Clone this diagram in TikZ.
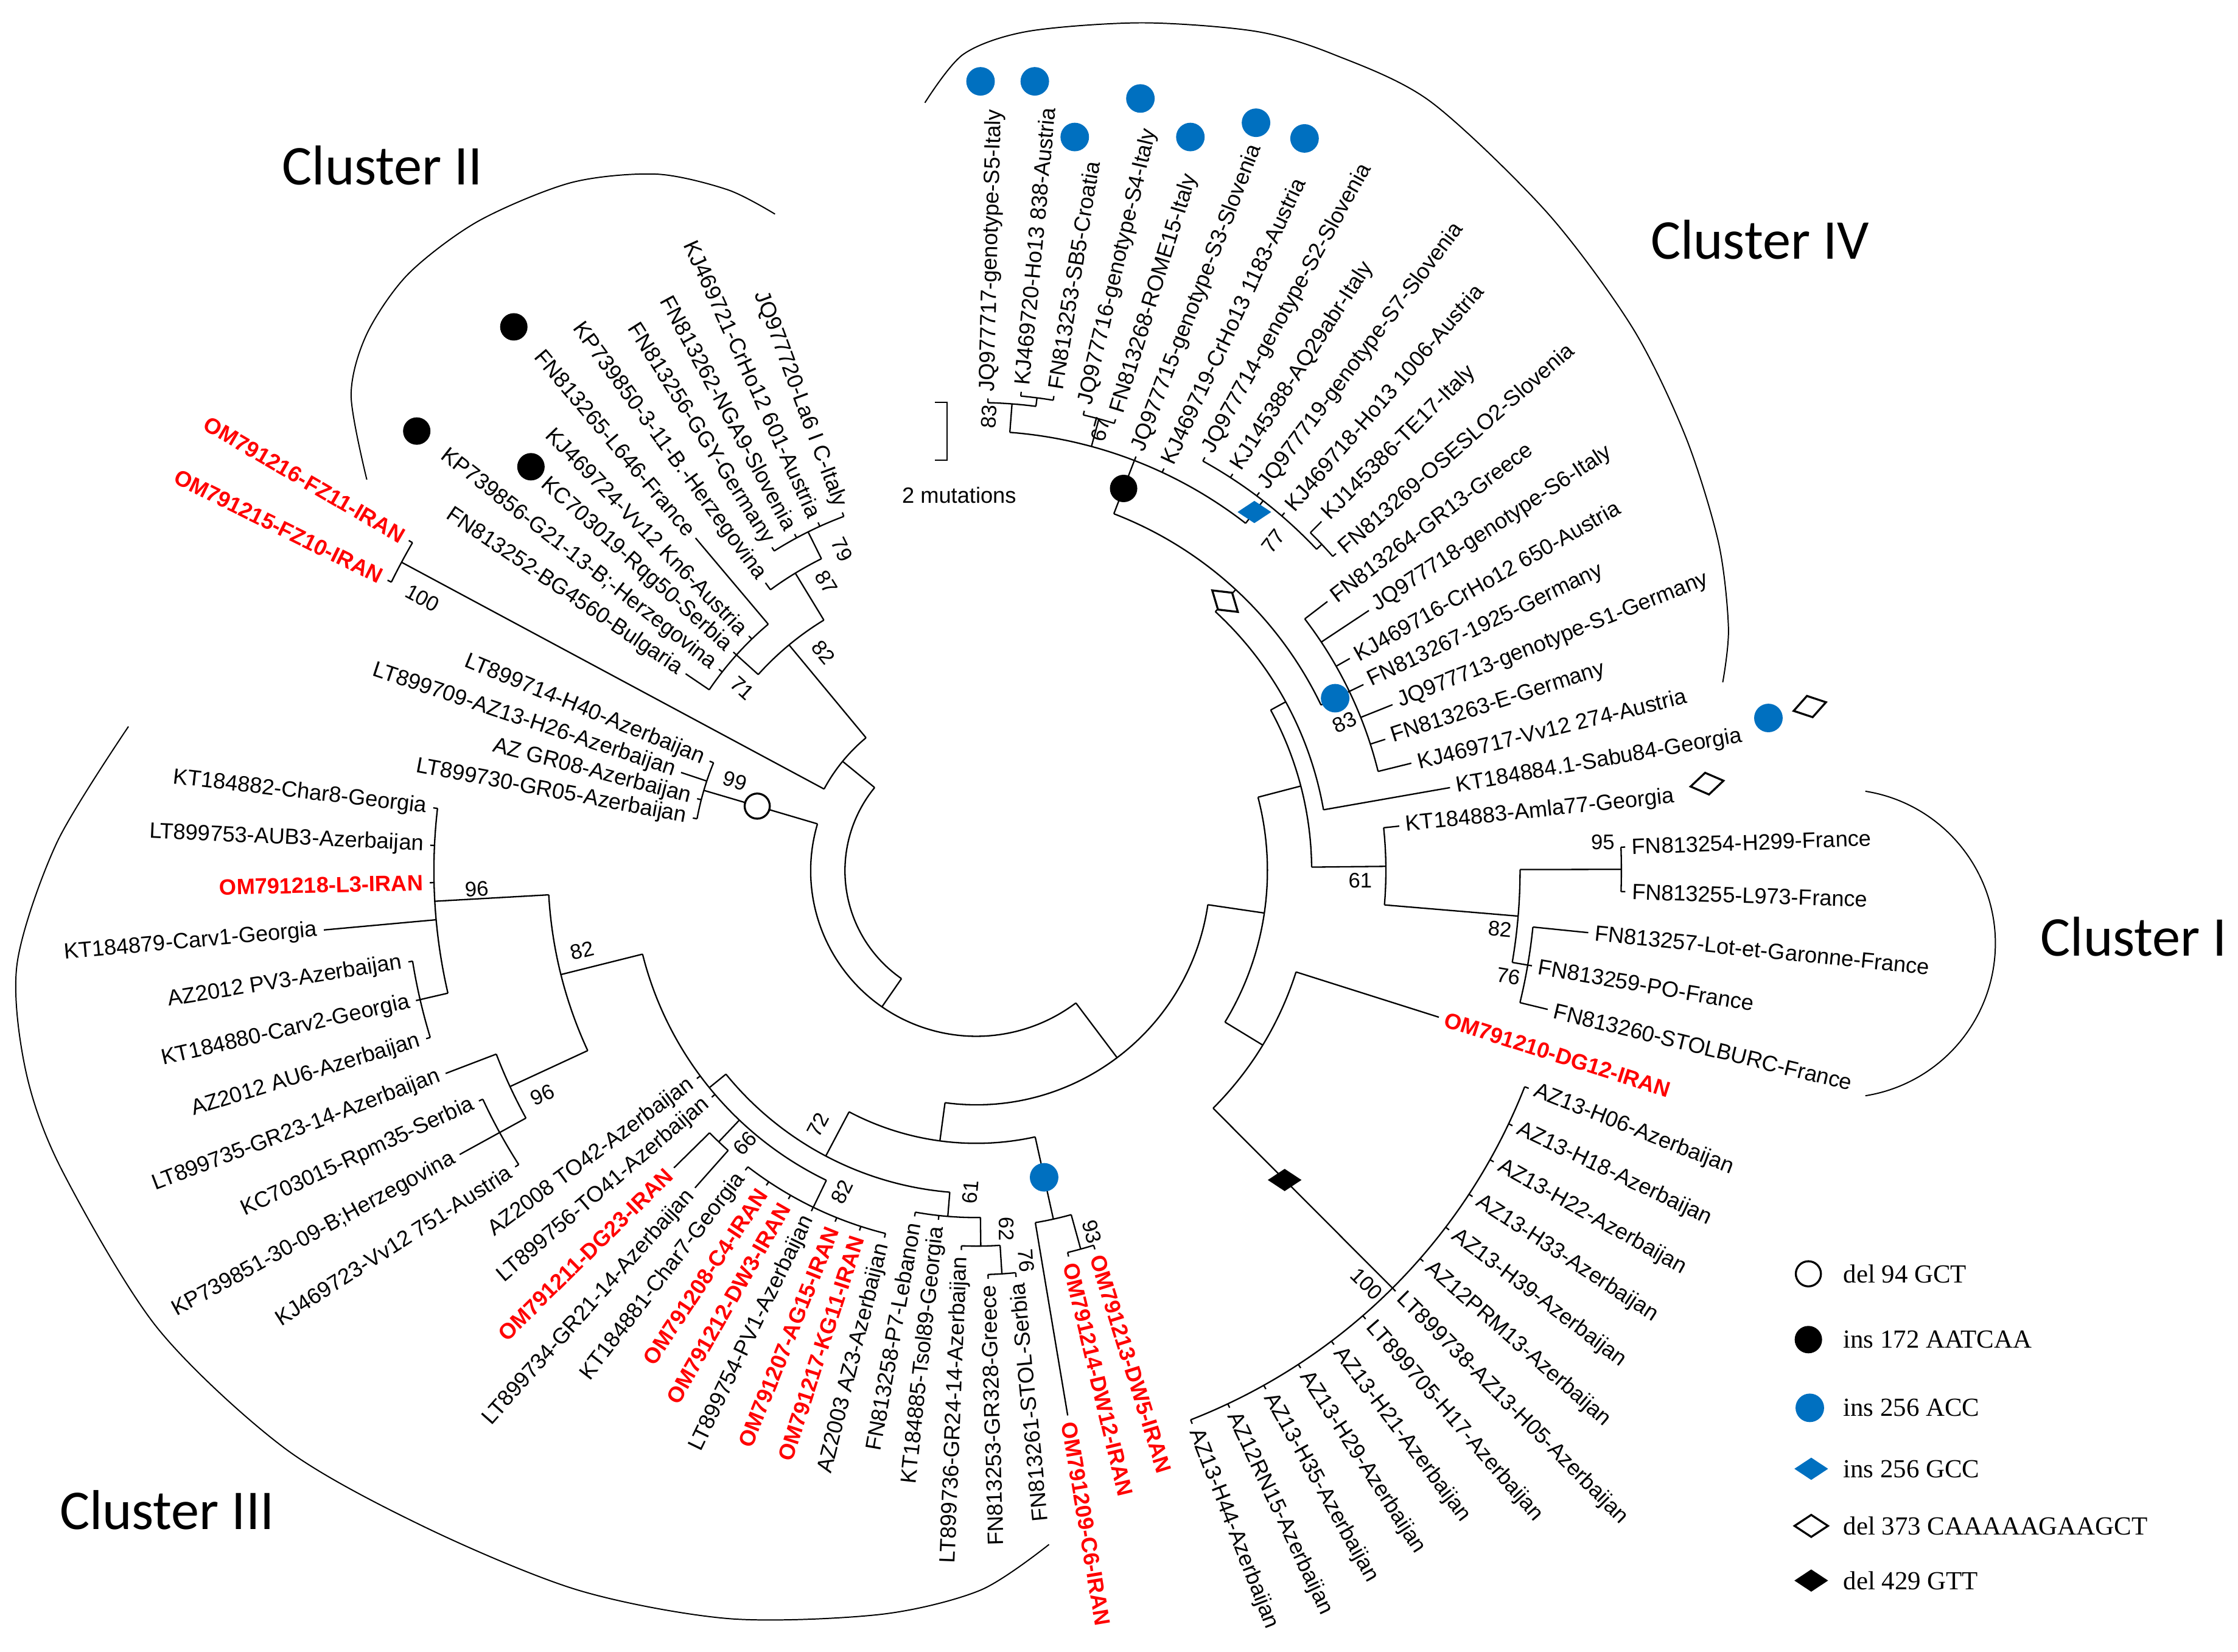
\documentclass[tikz,border=0pt]{standalone}
\usepackage{fontspec}
\setmainfont{Liberation Sans}
\newfontfamily\clusterfont{Carlito}
\newfontfamily\legendfont{Liberation Serif}
\usepackage{tikz}
\usetikzlibrary{shapes.geometric}
\definecolor{insblue}{RGB}{0,112,192}

\begin{document}
\begin{tikzpicture}[x=0.25mm,y=0.25mm,line width=0.7pt]
\tikzstyle{taxl}=[anchor=east,inner sep=3pt,font=\fontsize{11}{13}\selectfont]
\tikzstyle{taxr}=[anchor=west,inner sep=3pt,font=\fontsize{11}{13}\selectfont]
\tikzstyle{iran}=[text=red,font=\fontsize{11}{13}\selectfont\bfseries]
\tikzstyle{boot}=[inner sep=0pt,font=\fontsize{10.5}{12}\selectfont]
\tikzstyle{cluster}=[font=\clusterfont\fontsize{28}{32}\selectfont]
\tikzstyle{legend}=[anchor=west,inner sep=0pt,font=\legendfont\fontsize{13}{15}\selectfont]
\tikzstyle{opendot}=[circle,draw,fill=white,line width=1pt,minimum size=4.4mm,inner sep=0pt]
\tikzstyle{blackdot}=[circle,fill=black,minimum size=4.8mm,inner sep=0pt]
\tikzstyle{bluedot}=[circle,fill=insblue,minimum size=5mm,inner sep=0pt]
\tikzstyle{bluediam}=[diamond,fill=insblue,minimum width=6mm,minimum height=4mm,inner sep=0pt]
\tikzstyle{opendiam}=[diamond,draw,fill=white,line width=1pt,minimum width=6mm,minimum height=4mm,inner sep=0pt]
\tikzstyle{blackdiam}=[diamond,fill=black,minimum width=6mm,minimum height=4mm,inner sep=0pt]
\useasboundingbox (-684,-547) rectangle (884,610);

% internal nodes: joint point, radial to parent arc, own arc
\coordinate (root) at (188:92);
\draw (140.72:92) arc[start angle=140.72,end angle=235.28,radius=92];
\coordinate (nII) at (140.72:121); \draw (140.72:92) -- (nII);
\draw (129.67:121) arc[start angle=129.67,end angle=151.78,radius=121];
\coordinate (n82b) at (129.67:205.5); \draw (129.67:121) -- (n82b);
\draw (121.31:205.5) arc[start angle=121.31,end angle=138.02,radius=205.5];
\coordinate (n87) at (121.31:244); \draw (121.31:205.5) -- (n87);
\draw (116.40:244) arc[start angle=116.40,end angle=126.22,radius=244];
\coordinate (n79) at (116.40:265); \draw (116.40:244) -- (n79);
\draw (110.50:265) arc[start angle=110.50,end angle=122.29,radius=265];
\coordinate (n71) at (138.02:226); \draw (138.02:205.5) -- (n71);
\draw (130.16:226) arc[start angle=130.16,end angle=145.88,radius=226];
\coordinate (nFZ) at (151.78:457); \draw (151.78:121) -- (nFZ);
\draw (149.81:457) arc[start angle=149.81,end angle=153.74,radius=457];
\coordinate (nB) at (235.28:116); \draw (235.28:92) -- (nB);
\draw (163.57:116) arc[start angle=163.57,end angle=306.99,radius=116];
\coordinate (n99) at (163.57:199); \draw (163.57:116) -- (n99);
\draw (157.67:199) arc[start angle=157.67,end angle=169.47,radius=199];
\coordinate (nZ) at (306.99:164); \draw (306.99:116) -- (nZ);
\draw (262.33:164) arc[start angle=262.33,end angle=351.64,radius=164];
\coordinate (n191) at (262.33:191); \draw (262.33:164) -- (n191);
\draw (242.19:191) arc[start angle=242.19,end angle=282.48,radius=191];
\coordinate (n72) at (242.19:226); \draw (242.19:191) -- (n72);
\draw (219.10:226) arc[start angle=219.10,end angle=265.29,radius=226];
\coordinate (nP) at (219.10:241); \draw (219.10:226) -- (nP);
\draw (194.04:241) arc[start angle=194.04,end angle=244.16,radius=241];
\coordinate (n82c) at (194.04:300); \draw (194.04:241) -- (n82c);
\draw (183.23:300) arc[start angle=183.23,end angle=204.84,radius=300];
\coordinate (n96a) at (183.23:380); \draw (183.23:300) -- (n96a);
\draw (173.40:380) arc[start angle=173.40,end angle=193.05,radius=380];
\coordinate (n400) at (193.05:400); \draw (193.05:380) -- (n400);
\draw (189.12:400) arc[start angle=189.12,end angle=196.98,radius=400];
\coordinate (n96b) at (204.84:360); \draw (204.84:300) -- (n96b);
\draw (200.91:360) arc[start angle=200.91,end angle=208.78,radius=360];
\coordinate (n381) at (208.78:381); \draw (208.78:360) -- (n381);
\draw (204.84:381) arc[start angle=204.84,end angle=212.71,radius=381];
\coordinate (n66) at (226.47:262); \draw (226.47:241) -- (n66);
\draw (224.50:262) arc[start angle=224.50,end angle=228.43,radius=262];
\coordinate (n82d) at (244.16:262); \draw (244.16:241) -- (n82d);
\draw (232.36:262) arc[start angle=232.36,end angle=255.95,radius=262];
\coordinate (n61) at (265.29:243); \draw (265.29:226) -- (n61);
\draw (259.88:243) arc[start angle=259.88,end angle=270.69,radius=243];
\coordinate (n62) at (270.69:263); \draw (270.69:243) -- (n62);
\draw (267.74:263) arc[start angle=267.74,end angle=273.64,radius=263];
\coordinate (n76a) at (273.64:283); \draw (273.64:263) -- (n76a);
\draw (271.67:283) arc[start angle=271.67,end angle=275.60,radius=283];
\coordinate (n250) at (282.48:250); \draw (282.48:191) -- (n250);
\draw (279.53:250) arc[start angle=279.53,end angle=285.43,radius=250];
\coordinate (n93) at (285.43:275); \draw (285.43:250) -- (n93);
\draw (283.46:275) arc[start angle=283.46,end angle=287.40,radius=275];
\coordinate (nY) at (351.64:204); \draw (351.64:164) -- (nY);
\draw (328.67:204) arc[start angle=328.67,end angle=374.62,radius=204];
\coordinate (nX) at (328.67:235); \draw (328.67:204) -- (nX);
\draw (314.92:235) arc[start angle=314.92,end angle=342.43,radius=235];
\coordinate (nAZ) at (314.92:413); \draw (314.92:235) -- (nAZ);
\draw (291.33:413) arc[start angle=291.33,end angle=338.50,radius=413];
\coordinate (nT) at (374.62:235); \draw (374.62:204) -- (nT);
\draw (360.61:235) arc[start angle=360.61,end angle=388.62,radius=235];
\coordinate (n61b) at (360.61:287); \draw (360.61:235) -- (n61b);
\draw (355.21:287) arc[start angle=355.21,end angle=366.02,radius=287];
\coordinate (n82e) at (355.21:381); \draw (355.21:287) -- (n82e);
\draw (350.29:381) arc[start angle=350.29,end angle=360.12,radius=381];
\coordinate (n76b) at (350.29:392); \draw (350.29:381) -- (n76b);
\draw (346.36:392) arc[start angle=346.36,end angle=354.22,radius=392];
\coordinate (n95) at (360.12:452); \draw (360.12:381) -- (n95);
\draw (358.15:452) arc[start angle=358.15,end angle=362.09,radius=452];
\coordinate (nSB) at (388.62:247); \draw (388.62:235) -- (nSB);
\draw (369.95:247) arc[start angle=369.95,end angle=407.29,radius=247];
\coordinate (nBk) at (407.29:268); \draw (407.29:247) -- (nBk);
\draw (385.67:268) arc[start angle=385.67,end angle=428.92,radius=268];
\coordinate (nF) at (385.67:290); \draw (385.67:268) -- (nF);
\draw (373.88:290) arc[start angle=373.88,end angle=397.47,radius=290];
\coordinate (nS) at (428.92:308); \draw (428.92:268) -- (nS);
\draw (412.21:308) arc[start angle=412.21,end angle=445.62,radius=308];
\coordinate (n77) at (412.21:328); \draw (412.21:308) -- (n77);
\draw (403.37:328) arc[start angle=403.37,end angle=421.05,radius=328];
\coordinate (nTE) at (403.37:333); \draw (403.37:328) -- (nTE);
\draw (401.40:333) arc[start angle=401.40,end angle=405.33,radius=333];
\coordinate (n67) at (434.81:328); \draw (434.81:308) -- (n67);
\draw (432.85:328) arc[start angle=432.85,end angle=436.78,radius=328];
\coordinate (n83) at (445.62:328); \draw (445.62:308) -- (n83);
\draw (442.68:328) arc[start angle=442.68,end angle=448.57,radius=328];
\coordinate (nSub) at (442.68:334); \draw (442.68:328) -- (nSub);
\draw (440.71:334) arc[start angle=440.71,end angle=444.64,radius=334];

% taxa, left half
\node[taxl,rotate=-69.50] (t0) at (110.50:268) {JQ977720-La6 I C-Italy}; \draw (110.50:265) -- (t0);
\node[taxl,rotate=-65.57] (t1) at (114.43:268) {KJ469721-CrHo12 601-Austria}; \draw (114.43:265) -- (t1);
\node[taxl,rotate=-61.64] (t2) at (118.36:268) {FN813262-NGA9-Slovenia}; \draw (118.36:265) -- (t2);
\node[taxl,rotate=-57.71] (t3) at (122.29:268) {FN813256-GGY-Germany}; \draw (122.29:265) -- (t3);
\node[taxl,rotate=-53.78] (t4) at (126.22:250) {KP739850-3-11-B.-Herzegovina}; \draw (126.22:244) -- (t4);
\node[taxl,rotate=-49.84] (t5) at (130.16:305) {FN813265-L646-France}; \draw (130.16:226) -- (t5);
\node[taxl,rotate=-45.91] (t6) at (134.09:229) {KJ469724-Vv12 Kn6-Austria}; \draw (134.09:226) -- (t6);
\node[taxl,rotate=-41.98] (t7) at (138.02:229) {KC703019-Rqg50-Serbia}; \draw (138.02:226) -- (t7);
\node[taxl,rotate=-38.05] (t8) at (141.95:229) {KP739856-G21-13-B;-Herzegovina}; \draw (141.95:226) -- (t8);
\node[taxl,rotate=-34.12] (t9) at (145.88:246) {FN813252-BG4560-Bulgaria}; \draw (145.88:226) -- (t9);
\node[taxl,iran,rotate=-30.19] (t10) at (149.81:460) {OM791216-FZ11-IRAN}; \draw (149.81:457) -- (t10);
\node[taxl,iran,rotate=-26.26] (t11) at (153.74:460) {OM791215-FZ10-IRAN}; \draw (153.74:457) -- (t11);
\node[taxl,rotate=-22.33] (t12) at (157.67:202) {LT899714-H40-Azerbaijan}; \draw (157.67:199) -- (t12);
\node[taxl,rotate=-18.40] (t13) at (161.60:218) {LT899709-AZ13-H26-Azerbaijan}; \draw (161.60:199) -- (t13);
\node[taxl,rotate=-14.47] (t14) at (165.53:202) {AZ GR08-Azerbaijan}; \draw (165.53:199) -- (t14);
\node[taxl,rotate=-10.53] (t15) at (169.47:202) {LT899730-GR05-Azerbaijan}; \draw (169.47:199) -- (t15);
\node[taxl,rotate=-6.60] (t16) at (173.40:383) {KT184882-Char8-Georgia}; \draw (173.40:380) -- (t16);
\node[taxl,rotate=-2.67] (t17) at (177.33:383) {LT899753-AUB3-Azerbaijan}; \draw (177.33:380) -- (t17);
\node[taxl,iran,rotate=1.26] (t18) at (181.26:383) {OM791218-L3-IRAN}; \draw (181.26:380) -- (t18);
\node[taxl,rotate=5.19] (t19) at (185.19:459) {KT184879-Carv1-Georgia}; \draw (185.19:380) -- (t19);
\node[taxl,rotate=9.12] (t20) at (189.12:403) {AZ2012 PV3-Azerbaijan}; \draw (189.12:400) -- (t20);
\node[taxl,rotate=13.05] (t21) at (193.05:403) {KT184880-Carv2-Georgia}; \draw (193.05:400) -- (t21);
\node[taxl,rotate=16.98] (t22) at (196.98:403) {AZ2012 AU6-Azerbaijan}; \draw (196.98:400) -- (t22);
\node[taxl,rotate=20.91] (t23) at (200.91:398) {LT899735-GR23-14-Azerbaijan}; \draw (200.91:360) -- (t23);
\node[taxl,rotate=24.84] (t24) at (204.84:384) {KC703015-Rpm35-Serbia}; \draw (204.84:381) -- (t24);
\node[taxl,rotate=28.78] (t25) at (208.78:413) {KP739851-30-09-B;Herzegovina}; \draw (208.78:381) -- (t25);
\node[taxl,rotate=32.71] (t26) at (212.71:384) {KJ469723-Vv12 751-Austria}; \draw (212.71:381) -- (t26);
\node[taxl,rotate=36.64] (t27) at (216.64:244) {AZ2008 TO42-Azerbaijan}; \draw (216.64:241) -- (t27);
\node[taxl,rotate=40.57] (t28) at (220.57:244) {LT899756-TO41-Azerbaijan}; \draw (220.57:241) -- (t28);
\node[taxl,iran,rotate=44.50] (t29) at (224.50:297) {OM791211-DG23-IRAN}; \draw (224.50:262) -- (t29);
\node[taxl,rotate=48.43] (t30) at (228.43:297) {LT899734-GR21-14-Azerbaijan}; \draw (228.43:262) -- (t30);
\node[taxl,rotate=52.36] (t31) at (232.36:265) {KT184881-Char7-Georgia}; \draw (232.36:262) -- (t31);
\node[taxl,iran,rotate=56.29] (t32) at (236.29:265) {OM791208-C4-IRAN}; \draw (236.29:262) -- (t32);
\node[taxl,iran,rotate=60.22] (t33) at (240.22:265) {OM791212-DW3-IRAN}; \draw (240.22:262) -- (t33);
\node[taxl,rotate=64.15] (t34) at (244.15:265) {LT899754-PV1-Azerbaijan}; \draw (244.15:262) -- (t34);
\node[taxl,iran,rotate=68.09] (t35) at (248.09:265) {OM791207-AG15-IRAN}; \draw (248.09:262) -- (t35);
\node[taxl,iran,rotate=72.02] (t36) at (252.02:265) {OM791217-KG11-IRAN}; \draw (252.02:262) -- (t36);
\node[taxl,rotate=75.95] (t37) at (255.95:265) {AZ2003 AZ3-Azerbaijan}; \draw (255.95:262) -- (t37);
\node[taxl,rotate=79.88] (t38) at (259.88:246) {FN813258-P7-Lebanon}; \draw (259.88:243) -- (t38);
\node[taxl,rotate=83.81] (t39) at (263.81:246) {KT184885-Tsol89-Georgia}; \draw (263.81:243) -- (t39);
\node[taxl,rotate=87.74] (t40) at (267.74:266) {LT899736-GR24-14-Azerbaijan}; \draw (267.74:263) -- (t40);
\node[taxl,rotate=91.67] (t41) at (271.67:286) {FN813253-GR328-Greece}; \draw (271.67:283) -- (t41);
\node[taxl,rotate=95.60] (t42) at (275.60:286) {FN813261-STOL-Serbia}; \draw (275.60:283) -- (t42);

% taxa, right half
\node[taxr,iran,rotate=-80.47] (t43) at (-80.47:387) {OM791209-C6-IRAN}; \draw (-80.47:250) -- (t43);
\node[taxr,iran,rotate=-76.54] (t44) at (-76.54:278) {OM791214-DW12-IRAN}; \draw (-76.54:275) -- (t44);
\node[taxr,iran,rotate=-72.60] (t45) at (-72.60:278) {OM791213-DW5-IRAN}; \draw (-72.60:275) -- (t45);
\node[taxr,rotate=-68.67] (t46) at (-68.67:416) {AZ13-H44-Azerbaijan}; \draw (-68.67:413) -- (t46);
\node[taxr,rotate=-64.74] (t47) at (-64.74:416) {AZ12RN15-Azerbaijan}; \draw (-64.74:413) -- (t47);
\node[taxr,rotate=-60.81] (t48) at (-60.81:416) {AZ13-H35-Azerbaijan}; \draw (-60.81:413) -- (t48);
\node[taxr,rotate=-56.88] (t49) at (-56.88:416) {AZ13-H29-Azerbaijan}; \draw (-56.88:413) -- (t49);
\node[taxr,rotate=-52.95] (t50) at (-52.95:416) {AZ13-H21-Azerbaijan}; \draw (-52.95:413) -- (t50);
\node[taxr,rotate=-49.02] (t51) at (-49.02:416) {LT899705-H17-Azerbaijan}; \draw (-49.02:413) -- (t51);
\node[taxr,rotate=-45.08] (t52) at (-45.08:416) {LT899738-AZ13-H05-Azerbaijan}; \draw (-45.08:413) -- (t52);
\node[taxr,rotate=-41.15] (t53) at (-41.15:416) {AZ12PRM13-Azerbaijan}; \draw (-41.15:413) -- (t53);
\node[taxr,rotate=-37.22] (t54) at (-37.22:416) {AZ13-H39-Azerbaijan}; \draw (-37.22:413) -- (t54);
\node[taxr,rotate=-33.29] (t55) at (-33.29:416) {AZ13-H33-Azerbaijan}; \draw (-33.29:413) -- (t55);
\node[taxr,rotate=-29.36] (t56) at (-29.36:416) {AZ13-H22-Azerbaijan}; \draw (-29.36:413) -- (t56);
\node[taxr,rotate=-25.43] (t57) at (-25.43:416) {AZ13-H18-Azerbaijan}; \draw (-25.43:413) -- (t57);
\node[taxr,rotate=-21.50] (t58) at (-21.50:416) {AZ13-H06-Azerbaijan}; \draw (-21.50:413) -- (t58);
\node[taxr,iran,rotate=-17.57] (t59) at (-17.57:340) {OM791210-DG12-IRAN}; \draw (-17.57:235) -- (t59);
\node[taxr,rotate=-13.64] (t60) at (-13.64:412) {FN813260-STOLBURC-France}; \draw (-13.64:392) -- (t60);
\node[taxr,rotate=-9.71] (t61) at (-9.71:395) {FN813259-PO-France}; \draw (-9.71:392) -- (t61);
\node[taxr,rotate=-5.78] (t62) at (-5.78:431) {FN813257-Lot-et-Garonne-France}; \draw (-5.78:392) -- (t62);
\node[taxr,rotate=-1.85] (t63) at (-1.85:455) {FN813255-L973-France}; \draw (-1.85:452) -- (t63);
\node[taxr,rotate=2.09] (t64) at (2.09:455) {FN813254-H299-France}; \draw (2.09:452) -- (t64);
\node[taxr,rotate=6.02] (t65) at (6.02:298) {KT184883-Amla77-Georgia}; \draw (6.02:287) -- (t65);
\node[taxr,rotate=9.95] (t66) at (9.95:337) {KT184884.1-Sabu84-Georgia}; \draw (9.95:247) -- (t66);
\node[taxr,rotate=13.88] (t67) at (13.88:314) {KJ469717-Vv12 274-Austria}; \draw (13.88:290) -- (t67);
\node[taxr,rotate=17.81] (t68) at (17.81:301) {FN813263-E-Germany}; \draw (17.81:290) -- (t68);
\node[taxr,rotate=21.74] (t69) at (21.74:314) {JQ977713-genotype-S1-Germany}; \draw (21.74:290) -- (t69);
\node[taxr,rotate=25.67] (t70) at (25.67:301) {FN813267-1925-Germany}; \draw (25.67:290) -- (t70);
\node[taxr,rotate=29.60] (t71) at (29.60:301) {KJ469716-CrHo12 650-Austria}; \draw (29.60:290) -- (t71);
\node[taxr,rotate=33.53] (t72) at (33.53:330) {JQ977718-genotype-S6-Italy}; \draw (33.53:290) -- (t72);
\node[taxr,rotate=37.47] (t73) at (37.47:310) {FN813264-GR13-Greece}; \draw (37.47:290) -- (t73);
\node[taxr,rotate=41.40] (t74) at (41.40:336) {FN813269-OSESLO2-Slovenia}; \draw (41.40:333) -- (t74);
\node[taxr,rotate=45.33] (t75) at (45.33:344) {KJ145386-TE17-Italy}; \draw (45.33:333) -- (t75);
\node[taxr,rotate=49.26] (t76) at (49.26:331) {KJ469718-Ho13 1006-Austria}; \draw (49.26:328) -- (t76);
\node[taxr,rotate=53.19] (t77) at (53.19:331) {JQ977719-genotype-S7-Slovenia}; \draw (53.19:328) -- (t77);
\node[taxr,rotate=57.12] (t78) at (57.12:331) {KJ145388-AQ29abr-Italy}; \draw (57.12:328) -- (t78);
\node[taxr,rotate=61.05] (t79) at (61.05:331) {JQ977714-genotype-S2-Slovenia}; \draw (61.05:328) -- (t79);
\node[taxr,rotate=64.98] (t80) at (64.98:311) {KJ469719-CrHo13 1183-Austria}; \draw (64.98:308) -- (t80);
\node[taxr,rotate=68.91] (t81) at (68.91:311) {JQ977715-genotype-S3-Slovenia}; \draw (68.91:308) -- (t81);
\node[taxr,rotate=72.85] (t82) at (72.85:331) {FN813268-ROME15-Italy}; \draw (72.85:328) -- (t82);
\node[taxr,rotate=76.78] (t83) at (76.78:331) {JQ977716-genotype-S4-Italy}; \draw (76.78:328) -- (t83);
\node[taxr,rotate=80.71] (t84) at (80.71:337) {FN813253-SB5-Croatia}; \draw (80.71:334) -- (t84);
\node[taxr,rotate=84.64] (t85) at (84.64:337) {KJ469720-Ho13 838-Austria}; \draw (84.64:334) -- (t85);
\node[taxr,rotate=88.57] (t86) at (88.57:331) {JQ977717-genotype-S5-Italy}; \draw (88.57:328) -- (t86);

% bootstrap values
\node[boot,rotate=-28.2] (s1) at (-388,191) {100};
\node[boot,rotate=-63.6] (s2) at (-94,225) {79};
\node[boot,rotate=-58.7] (s3) at (-105,202) {87};
\node[boot,rotate=-50.3] (s4) at (-107,153) {82};
\node[boot,rotate=-42] (s5) at (-164,128) {71};
\node[boot,rotate=-16.4] (s6) at (-169,63) {99};
\node[boot,rotate=3.2] (s7) at (-350,-13) {96};
\node[boot,rotate=14] (s8) at (-276,-56) {82};
\node[boot,rotate=24.8] (s9) at (-304,-157) {96};
\node[boot,rotate=46.5] (s10) at (-162,-191) {66};
\node[boot,rotate=62.2] (s11) at (-111,-178) {72};
\node[boot,rotate=64.2] (s12) at (-94,-225) {82};
\node[boot,rotate=85.3] (s13) at (-4,-225) {61};
\node[boot,rotate=-89.3] (s14) at (21,-251) {62};
\node[boot,rotate=-86.4] (s15) at (35,-273) {76};
\node[boot,rotate=-74.6] (s16) at (81,-253) {93};
\node[boot,rotate=-45] (s17) at (273.5,-289.5) {100};
\node[boot,rotate=-9.7] (s18) at (373,-74) {76};
\node[boot,rotate=-4.8] (s19) at (367,-41) {82};
\node[boot] (s20) at (269,-7) {61};
\node[boot] (s21) at (439,20) {95};
\node[boot,rotate=25.7] (s22) at (258,104) {83};
\node[boot,rotate=52.2] (s23) at (208,231) {77};
\node[boot,rotate=74.8] (s24) at (87,309) {67};
\node[boot,rotate=85.6] (s25) at (9,318) {83};

% indel markers on branches
\node[opendot] (m1) at (163.57:160) {};
\node[blackdot] (m2) at (428.92:287) {};
\node[bluediam] (m3) at (412.21:318) {};
\node[opendiam,rotate=-40] (m4) at (407.29:257) {};
\node[bluedot] (m5) at (385.67:279) {};
\node[bluedot] (m6) at (282.48:220) {};
\node[blackdiam] (m7) at (314.92:306) {};
% indel markers beside taxa
\node[blackdot] (m8) at (-324,381) {};
\node[blackdot] (m9) at (-392,308) {};
\node[blackdot] (m10) at (-312,283) {};
\node[bluedot] (m11) at (3,553) {};
\node[bluedot] (m12) at (41,553) {};
\node[bluedot] (m13) at (69,514) {};
\node[bluedot] (m14) at (115,541) {};
\node[bluedot] (m15) at (150,514) {};
\node[bluedot] (m16) at (196,524) {};
\node[bluedot] (m17) at (230,513) {};
\node[bluedot] (m18) at (555,107) {};
\node[opendiam,rotate=15] (m19) at (584,115) {};
\node[opendiam,rotate=10] (m20) at (512,61) {};

% scale bar
\coordinate (sb1) at (-29,328); \coordinate (sb2) at (-20.4,328);
\coordinate (sb3) at (-20.4,287.6); \coordinate (sb4) at (-29,287.6);
\draw (sb1) -- (sb2) -- (sb3) -- (sb4);
\node[font=\fontsize{11}{13}\selectfont] (scale) at (-12,263) {2 mutations};

% cluster brackets
\draw[line width=0.6pt] plot[smooth] coordinates {(-427,274) (-438,333) (-427,376) (-398,418) (-349,455) (-284,482) (-224,488) (-174,477) (-141,460)};
\draw[line width=0.6pt] plot[smooth] coordinates {(-36,538) (-9,572) (36,588) (116,594) (196,588) (250,572) (318,539) (400,461) (460,380) (497,304) (520,230) (527,170) (523,132)};
\draw[line width=0.6pt] (606,-51) ++(81:108) arc[start angle=81,end angle=-81,radius=108];
\draw[line width=0.6pt] plot[smooth] coordinates {(-594,101) (-644,20) (-672,-65) (-666,-140) (-641,-209) (-574,-320) (-484,-405) (-386,-460) (-279,-504) (-173,-524) (-67,-521) (3,-504) (51,-472)};
\node[cluster] (c2) at (-416,494) {Cluster II};
\node[cluster] (c4) at (549,442) {Cluster IV};
\node[cluster] (c1) at (811,-46) {Cluster I};
\node[cluster] (c3) at (-567,-448) {Cluster III};

% legend
\node[opendot] (k1) at (583,-282.4) {};
\node[legend] (l1) at (607,-282.4) {del 94 GCT};
\node[blackdot] (k2) at (583,-328.5) {};
\node[legend] (l2) at (607,-328.5) {ins 172 AATCAA};
\node[bluedot] (k3) at (584,-376.3) {};
\node[legend] (l3) at (607,-376.3) {ins 256 ACC};
\node[bluediam] (k4) at (585,-419) {};
\node[legend] (l4) at (607,-419) {ins 256 GCC};
\node[opendiam] (k5) at (585,-459) {};
\node[legend] (l5) at (607,-459) {del 373 CAAAAAGAAGCT};
\node[blackdiam] (k6) at (585,-497.3) {};
\node[legend] (l6) at (607,-497.3) {del 429 GTT};
\end{tikzpicture}
\end{document}
